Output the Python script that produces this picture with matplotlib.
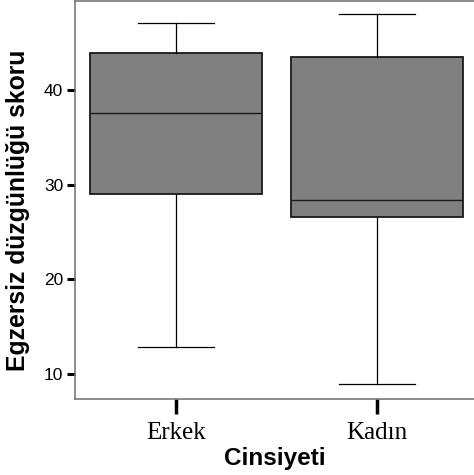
import matplotlib
matplotlib.use("Agg")
import matplotlib.pyplot as plt

categories = ["Erkek", "Kadın"]
whislo = [12.9, 8.9]
q1 = [29.0, 26.6]
med = [37.55, 28.45]
q3 = [44.0, 43.5]
whishi = [47.1, 48.05]
yticks = [10, 20, 30, 40]

stats = []
for i, c in enumerate(categories):
    stats.append(dict(label=c, whislo=whislo[i], q1=q1[i], med=med[i],
                      q3=q3[i], whishi=whishi[i], fliers=[]))

fig = plt.figure(figsize=(4.74, 4.75), dpi=100)
ax = fig.add_axes([75/474, 76/475, 1 - 75/474, 399/475 - 1/475])

ax.bxp(stats, positions=[1, 2], widths=0.855, patch_artist=True,
       showfliers=False,
       boxprops=dict(facecolor="#808080", edgecolor="#1a1a1a", linewidth=1.3),
       medianprops=dict(color="#1a1a1a", linewidth=1.0),
       whiskerprops=dict(color="black", linewidth=0.9),
       capprops=dict(color="black", linewidth=0.9),
       capwidths=0.38)

ax.set_xlim(0.497, 2.483)
ax.set_ylim(7.35, 49.45)
ax.set_yticks(yticks)
ax.set_yticklabels([str(t) for t in yticks], fontfamily="Liberation Sans", fontsize=12.5)
ax.set_xticks([1, 2])
ax.set_xticklabels(categories, fontfamily="Liberation Serif", fontsize=18)

ax.tick_params(axis="y", length=6, width=2.2, pad=2.5, color="black")
ax.tick_params(axis="x", length=10.5, width=2.5, pad=6, color="black")

for s in ["left", "top", "bottom"]:
    ax.spines[s].set_color("#6e6e6e")
    ax.spines[s].set_linewidth(1.1)
ax.spines["right"].set_visible(False)

ax.set_ylabel("Egzersiz düzgünlüğü skoru", fontfamily="Liberation Sans",
              fontweight="bold", fontsize=17.8)
ax.yaxis.set_label_coords(-0.114, 0.474)
ax.set_xlabel("Cinsiyeti", fontfamily="Liberation Sans", fontweight="bold",
              fontsize=17.5, labelpad=2)

fig.savefig("out.png", dpi=100)
